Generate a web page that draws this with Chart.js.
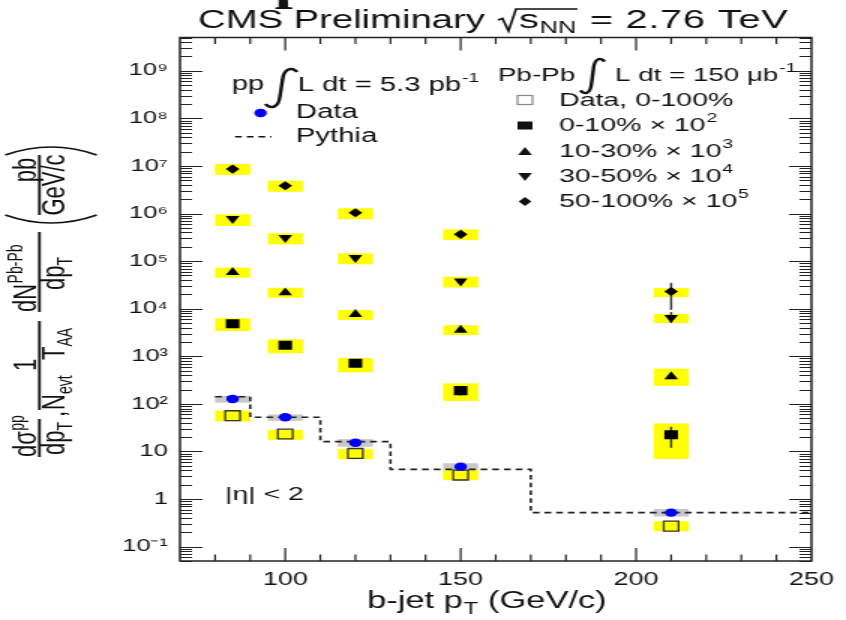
<!DOCTYPE html>
<html>
<head>
<meta charset="utf-8">
<script src="https://cdn.jsdelivr.net/npm/chart.js@4.4.1/dist/chart.umd.min.js"></script>
<style>
  html, body { margin: 0; background: #fff; }
</style>
</head>
<body>
<!-- the reference picture is stretched sideways, so draw narrow and widen with css -->
<canvas id="bjet" width="564" height="620" style="display:block;width:846px;height:620px"></canvas>
<script>
// b-jet pT bin centres (GeV/c)
const ptBins = [85, 100, 120, 150, 210];

// pp data, with grey systematic boxes
const ppData  = [127, 52.5, 15.3, 4.8, 0.52];
const ppSysLo = [106, 44, 12.6, 3.96, 0.43];
const ppSysHi = [148, 60, 18.2, 5.65, 0.62];

// PbPb 0-100%
const pbAll      = [56.5, 23.3, 9.1, 3.2, 0.27];
const pbAllSysLo = [43, 17.6, 6.9, 2.5, 0.21];
const pbAllSysHi = [72, 28.5, 11.2, 4.1, 0.34];

// PbPb 0-10% x 10^2
const pb010       = [4840, 1700, 713, 190, 22.5];
const pb010SysLo  = [3400, 1160, 461, 115, 7];
const pb010SysHi  = [6300, 2280, 920, 270, 39];
const pb010StatLo = [null, null, null, 150, 12];
const pb010StatHi = [null, null, null, 215, 33];

// PbPb 10-30% x 10^3
const pb1030      = [58000, 21700, 7600, 3570, 375];
const pb1030SysLo = [45000, 17000, 5800, 2800, 240];
const pb1030SysHi = [73000, 27500, 9400, 4500, 550];

// PbPb 30-50% x 10^4
const pb3050       = [780000, 310000, 118000, 38000, 6500];
const pb3050SysLo  = [550000, 225000, 86000, 28000, 5000];
const pb3050SysHi  = [960000, 384000, 146000, 47000, 7800];
const pb3050StatLo = [null, null, null, null, 5000];
const pb3050StatHi = [null, null, null, null, 8500];

// PbPb 50-100% x 10^5
const pb50100       = [8.6e6, 3.84e6, 1.04e6, 3.66e5, 2.3e4];
const pb50100SysLo  = [6.5e6, 2.87e6, 7.6e5, 2.77e5, 1.75e4];
const pb50100SysHi  = [1.1e7, 4.9e6, 1.29e6, 4.65e5, 2.7e4];
const pb50100StatLo = [null, null, null, null, 9500];
const pb50100StatHi = [null, null, null, null, 35000];

// Pythia histogram: bin edges and contents
const pythiaEdges  = [80, 90, 110, 130, 170, 250];
const pythiaValues = [141, 52.5, 16.1, 4.2, 0.52];

const boxHalf = 5; // GeV/c, half width of the systematic boxes
const FONT = "'Liberation Sans', Arial, sans-serif";
const SUP = {"-": "\u207b", "0": "\u2070", "1": "\u00b9", "2": "\u00b2", "3": "\u00b3", "4": "\u2074",
             "5": "\u2075", "6": "\u2076", "7": "\u2077", "8": "\u2078", "9": "\u2079"};

const toPoints = vals => ptBins.map((x, i) => ({x: x, y: vals[i]}));

function font(ctx, size, extra) {
    ctx.font = (extra ? extra + " " : "") + size + "px " + FONT;
}

// text with a raised (dy < 0) or lowered (dy > 0) piece after it
function textWithIndex(ctx, main, idx, x, y, size, idxSize, dy) {
    font(ctx, size);
    ctx.fillText(main, x, y);
    const w = ctx.measureText(main).width;
    font(ctx, idxSize);
    ctx.fillText(idx, x + w + 0.5, y + dy);
    return x + w + 0.5 + ctx.measureText(idx).width;
}

// rotated text, reading upwards, starting at canvas y = y0, baseline at canvas x = xb
function upText(ctx, str, y0, xb, size, align) {
    ctx.save();
    ctx.translate(xb, y0);
    ctx.rotate(-Math.PI / 2);
    font(ctx, size);
    ctx.textAlign = align || "left";
    ctx.fillText(str, 0, 0);
    const w = ctx.measureText(str).width;
    ctx.restore();
    return w;
}

function integralSign(ctx, x0, y0, x1, y1) {
    const w = x1 - x0, h = y1 - y0;
    ctx.beginPath();
    ctx.moveTo(x1, y0 + 0.1 * h);
    ctx.bezierCurveTo(x1 - 0.15 * w, y0 - 0.03 * h, x0 + 0.58 * w, y0, x0 + 0.54 * w, y0 + 0.3 * h);
    ctx.lineTo(x0 + 0.46 * w, y0 + 0.7 * h);
    ctx.bezierCurveTo(x0 + 0.42 * w, y1 + 0.01 * h, x0 + 0.15 * w, y1 + 0.03 * h, x0, y1 - 0.1 * h);
    ctx.lineWidth = 2.4;
    ctx.stroke();
}

const boxesAndErrors = {
    id: "boxesAndErrors",
    beforeDatasetsDraw(chart) {
        const {ctx, scales: {x, y}} = chart;
        function boxes(lo, hi, color) {
            ctx.fillStyle = color;
            ptBins.forEach((pt, i) => {
                const l = x.getPixelForValue(pt - boxHalf), r = x.getPixelForValue(pt + boxHalf);
                const t = y.getPixelForValue(hi[i]), b = y.getPixelForValue(lo[i]);
                ctx.fillRect(l, t, r - l, b - t);
            });
        }
        function bars(lo, hi) {
            ctx.strokeStyle = "#333";
            ctx.lineWidth = 1.4;
            ptBins.forEach((pt, i) => {
                if (lo[i] === null) return;
                const px = x.getPixelForValue(pt);
                ctx.beginPath();
                ctx.moveTo(px, y.getPixelForValue(hi[i]));
                ctx.lineTo(px, y.getPixelForValue(lo[i]));
                ctx.stroke();
            });
        }
        ctx.save();
        boxes(ppSysLo, ppSysHi, "#c8c8c8");
        boxes(pbAllSysLo, pbAllSysHi, "#ffff00");
        boxes(pb010SysLo, pb010SysHi, "#ffff00");
        boxes(pb1030SysLo, pb1030SysHi, "#ffff00");
        boxes(pb3050SysLo, pb3050SysHi, "#ffff00");
        boxes(pb50100SysLo, pb50100SysHi, "#ffff00");
        bars(pb010StatLo, pb010StatHi);
        bars(pb3050StatLo, pb3050StatHi);
        bars(pb50100StatLo, pb50100StatHi);
        ctx.restore();
    }
};

const frameAndText = {
    id: "frameAndText",
    afterDraw(chart) {
        const {ctx, chartArea: {left, right, top, bottom}, scales: {x, y}} = chart;
        ctx.save();
        ctx.strokeStyle = "#222";

        // frame
        ctx.lineWidth = 1.5;
        ctx.strokeRect(left, top, right - left, bottom - top);

        // ROOT style ticks on all four sides, inside the frame
        ctx.lineWidth = 1;
        for (let e = -2; e <= 9; e++) {
            for (let m = 1; m <= 9; m++) {
                const v = m * Math.pow(10, e);
                if (v < y.min || v > y.max) continue;
                const py = Math.round(y.getPixelForValue(v)) + 0.5;
                const len = m === 1 ? 15 : 8;
                ctx.beginPath();
                ctx.moveTo(left, py); ctx.lineTo(left + len, py);
                ctx.moveTo(right, py); ctx.lineTo(right - len, py);
                ctx.stroke();
            }
        }
        ctx.lineWidth = 1.2;
        for (let v = 80; v < 250; v += 10) {
            const px = x.getPixelForValue(v);
            const len = v % 50 === 0 ? 13 : 6.5;
            ctx.beginPath();
            ctx.moveTo(px, bottom); ctx.lineTo(px, bottom - len);
            ctx.moveTo(px, top); ctx.lineTo(px, top + len);
            ctx.stroke();
        }

        ctx.fillStyle = "#111";
        ctx.strokeStyle = "#111";
        ctx.textAlign = "left";
        ctx.textBaseline = "alphabetic";

        // stray glyph cut off at the top edge of the picture
        ctx.font = "bold 44px 'Liberation Serif', serif";
        ctx.fillText("p", 183, 0);

        // title
        font(ctx, 25.5);
        ctx.fillText("CMS Preliminary", 132, 28);
        ctx.lineWidth = 1.6;
        ctx.beginPath();
        ctx.moveTo(332, 20); ctx.lineTo(335, 18.5); ctx.lineTo(339, 31); ctx.lineTo(344, 9); ctx.lineTo(385, 9);
        ctx.stroke();
        const afterNN = textWithIndex(ctx, "s", "NN", 346, 28, 26.5, 17, 5);
        font(ctx, 26.5);
        ctx.letterSpacing = "0.5px";
        ctx.fillText(" = 2.76 TeV", afterNN + 1, 28);
        ctx.letterSpacing = "0px";

        // pp legend
        font(ctx, 19.5);
        ctx.fillText("pp", 154.5, 90);
        integralSign(ctx, 177, 68, 198, 108);
        textWithIndex(ctx, "L dt = 5.3 pb", "-1", 198.5, 91, 19.5, 13, -9);
        ctx.fillStyle = "#0000ff";
        ctx.beginPath(); ctx.arc(173.7, 113, 4.2, 0, 2 * Math.PI); ctx.fill();
        ctx.fillStyle = "#111";
        font(ctx, 19.5);
        ctx.fillText("Data", 197.3, 118);
        ctx.fillText("Pythia", 197.3, 142);
        ctx.setLineDash([4.5, 3.3]);
        ctx.lineWidth = 1.6;
        ctx.beginPath(); ctx.moveTo(156.7, 136.7); ctx.lineTo(181, 136.7); ctx.stroke();
        ctx.setLineDash([]);

        // PbPb legend
        font(ctx, 18.5);
        ctx.fillText("Pb-Pb", 332, 81);
        integralSign(ctx, 387, 58, 403, 94);
        textWithIndex(ctx, "L dt = 150 \u03bcb", "-1", 410, 81, 18.5, 13, -9);

        const rows = [
            {y: 100, text: "Data, 0-100%", exp: ""},
            {y: 125.5, text: "0-10% \u00d7 10", exp: "2"},
            {y: 151.5, text: "10-30% \u00d7 10", exp: "3"},
            {y: 176.5, text: "30-50% \u00d7 10", exp: "4"},
            {y: 201.5, text: "50-100% \u00d7 10", exp: "5"}
        ];
        rows.forEach((r, i) => {
            const mx = 350, my = r.y;
            ctx.beginPath();
            if (i === 0) {
                ctx.lineWidth = 1.2; ctx.strokeStyle = "#888";
                ctx.strokeRect(mx - 5, my - 4.5, 10, 9);
                ctx.strokeStyle = "#111";
            } else if (i === 1) {
                ctx.fillRect(mx - 5, my - 4, 10, 8);
            } else if (i === 2) {
                ctx.moveTo(mx - 4.6, my + 3.5); ctx.lineTo(mx + 4.6, my + 3.5); ctx.lineTo(mx, my - 4.5); ctx.fill();
            } else if (i === 3) {
                ctx.moveTo(mx - 4.6, my - 3.5); ctx.lineTo(mx + 4.6, my - 3.5); ctx.lineTo(mx, my + 4.5); ctx.fill();
            } else {
                ctx.moveTo(mx, my - 4.6); ctx.lineTo(mx + 4.2, my); ctx.lineTo(mx, my + 4.6); ctx.lineTo(mx - 4.2, my); ctx.fill();
            }
            textWithIndex(ctx, r.text, r.exp, 372.7, my + 5.5, 19, 13, -9);
        });

        // pseudorapidity cut
        font(ctx, 19);
        ctx.fillText("|\u03b7| < 2", 150, 500);

        // x title
        const afterT = textWithIndex(ctx, "b-jet p", "T", 244.7, 608, 23, 16, 6);
        font(ctx, 23);
        ctx.fillText(" (GeV/c)", afterT, 608);

        // y title, built from rotated pieces
        const bar = (y0, y1) => { ctx.fillRect(25.4, y1, 1.8, y0 - y1); };
        // d sigma pp / d pT
        let w = upText(ctx, "d\u03c3", 457, 24, 22);
        upText(ctx, "pp", 457 - w - 0.5, 16, 14);
        bar(457, 419);
        w = upText(ctx, "dp", 455, 42.5, 22);
        upText(ctx, "T", 455 - w, 47.5, 14);
        upText(ctx, ",", 417, 42.5, 22);
        // 1 / (Nevt TAA)
        upText(ctx, "1", 365, 24, 22, "center");
        bar(410, 321);
        w = upText(ctx, "N", 410, 42.5, 22);
        upText(ctx, "evt", 410 - w, 47.5, 14);
        w = upText(ctx, "T", 360, 42.5, 22);
        upText(ctx, "AA", 360 - w, 47.5, 14);
        // dN PbPb / d pT
        w = upText(ctx, "dN", 312, 24, 22);
        upText(ctx, "Pb-Pb", 312 - w - 0.5, 15, 14);
        bar(312, 232);
        w = upText(ctx, "dp", 290, 42.5, 22);
        upText(ctx, "T", 290 - w, 47.5, 14);
        // (pb / GeV/c)
        ctx.lineWidth = 1.6;
        ctx.beginPath(); ctx.moveTo(3.5, 215); ctx.quadraticCurveTo(34, 231, 64.5, 215); ctx.stroke();
        ctx.beginPath(); ctx.moveTo(3.5, 155); ctx.quadraticCurveTo(34, 139, 64.5, 155); ctx.stroke();
        upText(ctx, "pb", 170, 24, 22, "center");
        bar(215, 155);
        upText(ctx, "GeV/c", 185, 42.5, 22, "center");

        ctx.restore();
    }
};

new Chart(document.getElementById("bjet"), {
    type: "scatter",
    data: {
        datasets: [
            {label: "pp Data", data: toPoints(ppData), pointStyle: "circle", pointRadius: 4.2,
             backgroundColor: "#0000ff", borderWidth: 0},
            {label: "Data, 0-100%", data: toPoints(pbAll), pointStyle: "rect", pointRadius: 7,
             backgroundColor: "rgba(0,0,0,0)", borderColor: "#333", borderWidth: 1.3},
            {label: "0-10%", data: toPoints(pb010), pointStyle: "rect", pointRadius: 6.4,
             backgroundColor: "#000", borderWidth: 0},
            {label: "10-30%", data: toPoints(pb1030), pointStyle: "triangle", pointRadius: 5.3,
             backgroundColor: "#000", borderWidth: 0},
            {label: "30-50%", data: toPoints(pb3050), pointStyle: "triangle", pointRotation: 180, pointRadius: 5.3,
             backgroundColor: "#000", borderWidth: 0},
            {label: "50-100%", data: toPoints(pb50100), pointStyle: "rectRot", pointRadius: 4.6,
             backgroundColor: "#000", borderWidth: 0},
            {type: "line", label: "Pythia",
             data: pythiaEdges.map((x, i) => ({x: x, y: pythiaValues[Math.min(i, pythiaValues.length - 1)]})),
             stepped: "before", borderColor: "#222", borderWidth: 1.6, borderDash: [4.5, 3.3],
             pointRadius: 0, fill: false}
        ]
    },
    options: {
        responsive: false,
        animation: false,
        devicePixelRatio: 1,
        layout: {padding: {top: 37.5, right: 18.7, left: 0, bottom: 0}},
        plugins: {legend: {display: false}, tooltip: {enabled: false}},
        scales: {
            x: {
                type: "linear", min: 70, max: 250,
                grid: {display: false, drawTicks: false}, border: {display: false},
                ticks: {stepSize: 50, includeBounds: false, padding: 8, color: "#111",
                        font: {family: FONT, size: 18}},
                afterFit: s => { s.height = 59; }
            },
            y: {
                type: "logarithmic", min: 0.05, max: 5e9,
                grid: {display: false, drawTicks: false}, border: {display: false},
                ticks: {
                    autoSkip: false, padding: 8, color: "#111", font: {family: FONT, size: 17},
                    callback: v => {
                        const e = Math.log10(v), k = Math.round(e);
                        if (Math.abs(e - k) > 1e-6) return "";
                        if (k === 0) return "1";
                        if (k === 1) return "10";
                        return "10" + String(k).split("").map(c => SUP[c]).join("");
                    }
                },
                afterFit: s => { s.width = 120; }
            }
        }
    },
    plugins: [boxesAndErrors, frameAndText]
});
</script>
</body>
</html>
